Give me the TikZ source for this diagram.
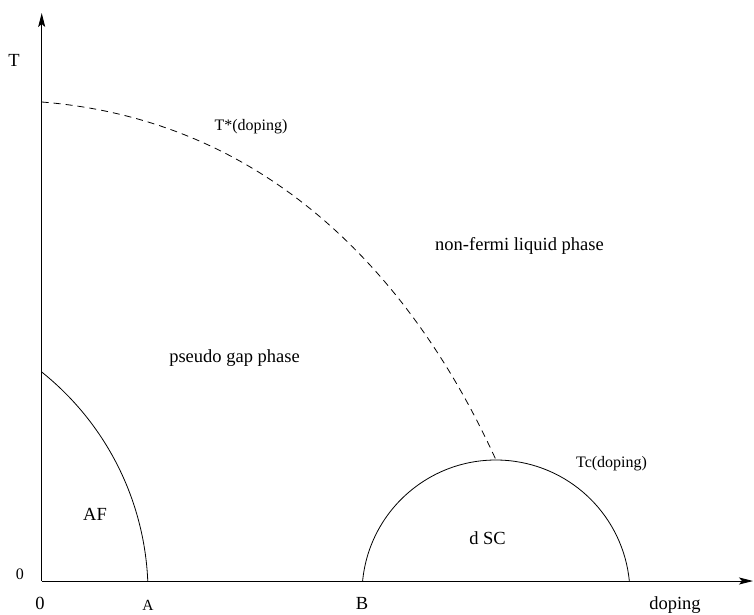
\documentclass[tikz,border=0pt]{standalone}
\usepackage{fontspec}
\setmainfont{Liberation Serif}
\usetikzlibrary{arrows.meta}
\begin{document}
\begin{tikzpicture}[x=1pt,y=1pt,
  axisline/.style={line width=0.9pt,-{Stealth[length=14pt,width=7pt,inset=3pt]}},
  curve/.style={line width=0.8pt},
  dashcurve/.style={line width=0.8pt,dash pattern=on 7pt off 5pt},
  lbl/.style={inner sep=0pt,font=\fontsize{18.5}{22}\selectfont},
  slbl/.style={inner sep=0pt,font=\fontsize{16}{19}\selectfont}]
\useasboundingbox (0,0) rectangle (754,614);
\coordinate (O) at (41.7,33);
\coordinate (Ytop) at (41.7,601);
\coordinate (Xend) at (753,33);
\coordinate (Tstart) at (41.7,512);
\coordinate (Ttop) at (496,154);
\draw[axisline] (O) -- (Ytop);
\draw[axisline] (O) -- (Xend);
% AF boundary
\draw[curve] (41.7,242) arc[start angle=51.37, end angle=2.43, radius=283];
% dSC dome
\draw[curve] (362.6,33) arc[start angle=174.43, end angle=5.57, radius=134];
% T* dashed
\draw[dashcurve] (Tstart) .. controls (301.7,491.2) and (433.9,290.5) .. (Ttop);
% labels
\node[lbl] (tT) at (14,554) {T};
\node[slbl] (t0l) at (20,40) {0};
\node[lbl] (t0b) at (40,11) {0};
\node[inner sep=0pt,font=\fontsize{15.5}{18}\selectfont] (tA) at (148,9) {A};
\node[lbl] (tB) at (362,11) {B};
\node[lbl] (tdop) at (675,9) {doping};
\node[slbl] (tstar) at (251,487) {T*(doping)};
\node[lbl] (tnf) at (519.5,368) {non-fermi liquid phase};
\node[lbl] (tpg) at (234.5,256) {pseudo gap phase};
\node[lbl] (taf) at (95,100) {AF};
\node[lbl] (tsc) at (487.5,76) {d SC};
\node[slbl] (ttc) at (611.5,150) {Tc(doping)};
\end{tikzpicture}
\end{document}
